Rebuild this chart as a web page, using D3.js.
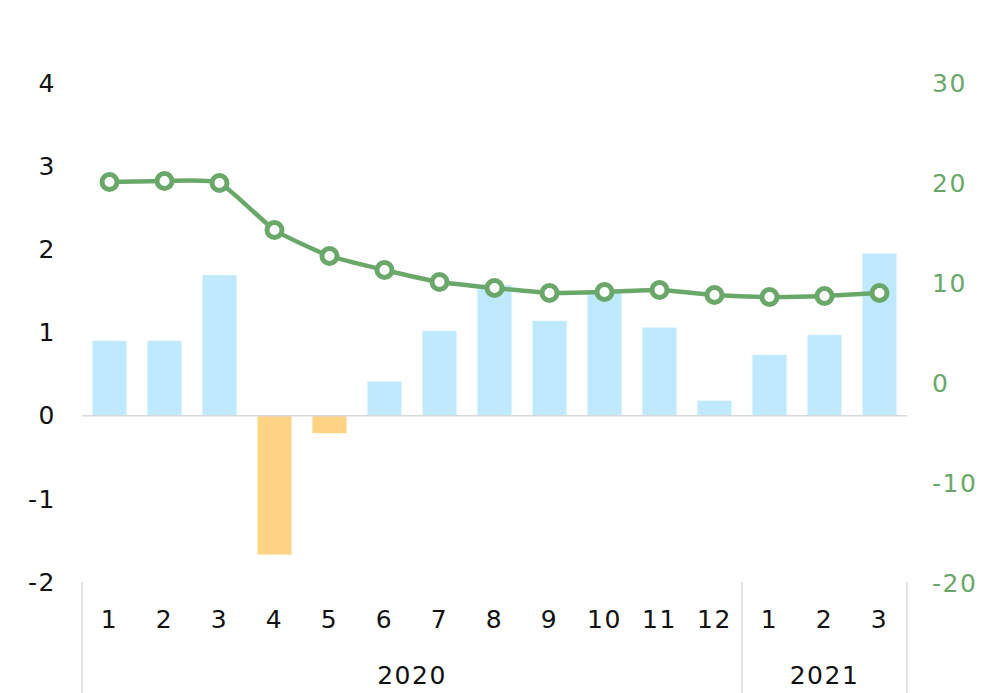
<!DOCTYPE html>
<html>
<head>
<meta charset="utf-8">
<script src="https://cdn.jsdelivr.net/npm/d3@7"></script>
<style>
  body { margin: 0; background: #fff; }
  text { font-family: "DejaVu Sans", sans-serif; letter-spacing: 1.5px; }
</style>
</head>
<body>
<svg id="chart" width="996" height="693"></svg>
<script>
// months and years shown under the axis
const months = ['1', '2', '3', '4', '5', '6', '7', '8', '9', '10', '11', '12', '1', '2', '3'];
const years = [{ label: '2020', from: 0, to: 12 }, { label: '2021', from: 12, to: 15 }];
// bars on left axis
const barValues = [0.90, 0.90, 1.69, -1.67, -0.21, 0.41, 1.02, 1.57, 1.14, 1.48, 1.06, 0.18, 0.73, 0.97, 1.95];
// line on right axis
const lineValues = [20.1, 20.2, 20.0, 15.3, 12.7, 11.3, 10.1, 9.5, 9.0, 9.1, 9.3, 8.8, 8.6, 8.7, 9.0];
const leftTicks = [-2, -1, 0, 1, 2, 3, 4];
const rightTicks = [-20, -10, 0, 10, 20, 30];

const svg = d3.select('#chart');
const plotLeft = 82, plotRight = 907, plotTop = 83, plotBottom = 582;
const fontSize = 25;

const idx = d3.range(months.length);
const x = d3.scaleBand().domain(idx).range([plotLeft, plotRight]).paddingInner(0.38).paddingOuter(0.19);
const yL = d3.scaleLinear().domain([-2, 4]).range([plotBottom, plotTop]);
const yR = d3.scaleLinear().domain([-20, 30]).range([plotBottom + 1, plotTop]);

// left axis labels
svg.append('g').selectAll('text').data(leftTicks).join('text')
  .attr('x', 56).attr('y', d => yL(d)).attr('dy', '0.35em')
  .attr('text-anchor', 'end').attr('font-size', fontSize).attr('fill', '#111')
  .text(d => d);

// right axis labels
svg.append('g').selectAll('text').data(rightTicks).join('text')
  .attr('x', 932).attr('y', d => yR(d)).attr('dy', '0.35em')
  .attr('text-anchor', 'start').attr('font-size', fontSize).attr('fill', '#6aa86a')
  .text(d => d);

// bars
svg.append('g').selectAll('rect').data(barValues).join('rect')
  .attr('x', (d, i) => x(i)).attr('width', x.bandwidth())
  .attr('y', d => yL(Math.max(0, d)))
  .attr('height', d => Math.abs(yL(d) - yL(0)))
  .attr('fill', d => d < 0 ? '#ffd384' : '#bfe9fe');

// zero line
svg.append('line')
  .attr('x1', plotLeft).attr('x2', plotRight).attr('y1', yL(0)).attr('y2', yL(0))
  .attr('stroke', '#d9d9d9').attr('stroke-width', 1.5);

// category axis: month labels, year labels, separators
const step = x.step();
const cx = i => x(i) + x.bandwidth() / 2;
svg.append('g').selectAll('text').data(months).join('text')
  .attr('x', (d, i) => cx(i)).attr('y', 619).attr('dy', '0.35em')
  .attr('text-anchor', 'middle').attr('font-size', fontSize).attr('fill', '#111')
  .text(d => d);

const sepX = [plotLeft, ...years.map(yr => plotLeft + yr.to * step)];
svg.append('g').selectAll('line').data(sepX).join('line')
  .attr('x1', d => d).attr('x2', d => d).attr('y1', plotBottom).attr('y2', 693)
  .attr('stroke', '#d9d9d9').attr('stroke-width', 1.5);

svg.append('g').selectAll('text').data(years).join('text')
  .attr('x', d => plotLeft + (d.from + d.to) / 2 * step).attr('y', 675).attr('dy', '0.35em')
  .attr('text-anchor', 'middle').attr('font-size', fontSize).attr('fill', '#111')
  .text(d => d.label);

// line + markers
const line = d3.line().x((d, i) => cx(i)).y(d => yR(d)).curve(d3.curveCardinal.tension(0.5));
svg.append('path').datum(lineValues)
  .attr('d', line).attr('fill', 'none')
  .attr('stroke', '#6aa86a').attr('stroke-width', 4.5);

svg.append('g').selectAll('circle').data(lineValues).join('circle')
  .attr('cx', (d, i) => cx(i)).attr('cy', d => yR(d)).attr('r', 7.5)
  .attr('fill', '#fff').attr('stroke', '#6aa86a').attr('stroke-width', 5);
</script>
</body>
</html>
